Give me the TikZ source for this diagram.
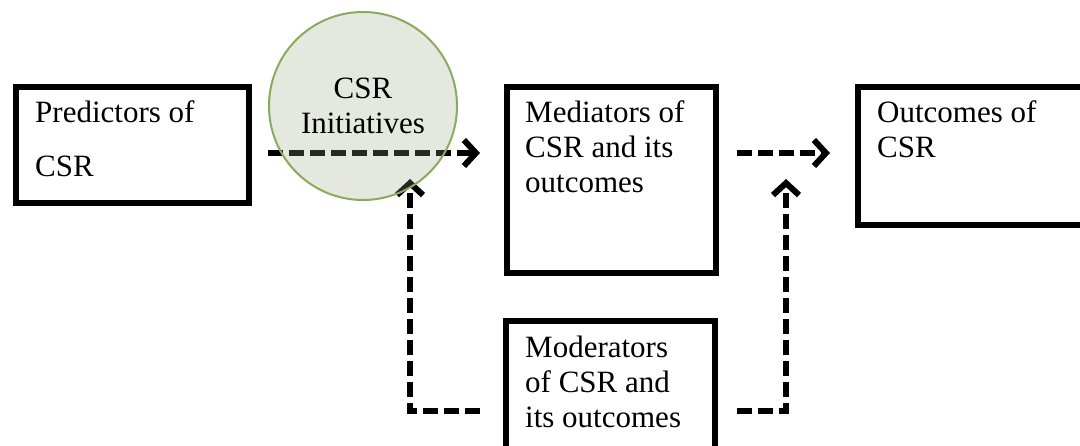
\documentclass[tikz,border=0pt]{standalone}
\usepackage{fontspec}
\setmainfont{Liberation Serif}
\usetikzlibrary{arrows.meta}

\definecolor{initfill}{RGB}{150,165,125}
\definecolor{initline}{RGB}{140,170,95}

\tikzset{
  box/.style={draw, line width=6pt, inner sep=0pt, anchor=north west},
  boxtext/.style={anchor=base west, inner sep=0pt, align=left,
    font=\fontsize{31}{35}\selectfont},
  flow/.style={line width=6pt, dash pattern=on 15pt off 6pt,
    -{Straight Barb[length=12pt, width=26pt, line width=6pt]}},
}

\begin{document}
\begin{tikzpicture}[x=1pt, y=-1pt]
    \path[use as bounding box, clip] (0,0) rectangle (1080,446);

    % Riquadri
    \node[box, minimum width=233pt, minimum height=116pt] (pred) at (13,84) {};
    \node[box, minimum width=209pt, minimum height=186pt] (med) at (504,84) {};
    \node[box, minimum width=260pt, minimum height=138pt] (out) at (855,84) {};
    \node[box, minimum width=209pt, minimum height=160pt] (mod) at (503,318) {};

    % Testi (ancorati alla linea di base dell'ultima riga)
    \node[boxtext, font=\fontsize{31}{54}\selectfont] (predtxt) at (35,177) {Predictors of\\CSR};
    \node[boxtext] (medtxt) at (525,193) {Mediators of\\CSR and its\\outcomes};
    \node[boxtext] (outtxt) at (877,158) {Outcomes of\\CSR};
    \node[boxtext] (modtxt) at (525,428) {Moderators\\of CSR and\\its outcomes};

    % Frecce
    \coordinate (a1s) at (268,153);
    \coordinate (a1e) at (480,153);
    \coordinate (a2s) at (737,153);
    \coordinate (a2e) at (830,153);
    \coordinate (a3s) at (480,411);
    \coordinate (a3c) at (410,411);
    \coordinate (a3e) at (410,179);
    \coordinate (a4s) at (737,411);
    \coordinate (a4c) at (786,411);
    \coordinate (a4e) at (786,179);
    \draw[flow] (a1s) -- (a1e);
    \draw[flow] (a2s) -- (a2e);
    \draw[flow] (a3s) -- (a3c) -- (a3e);
    \draw[flow] (a4s) -- (a4c) -- (a4e);

    % Cerchio
    \node[circle, draw=initline, line width=2pt, fill=initfill, fill opacity=0.25,
      text opacity=1, minimum size=188pt, inner sep=0pt, align=center,
      font=\fontsize{31}{35}\selectfont] (init) at (363,106) {CSR\\Initiatives};
\end{tikzpicture}
\end{document}
